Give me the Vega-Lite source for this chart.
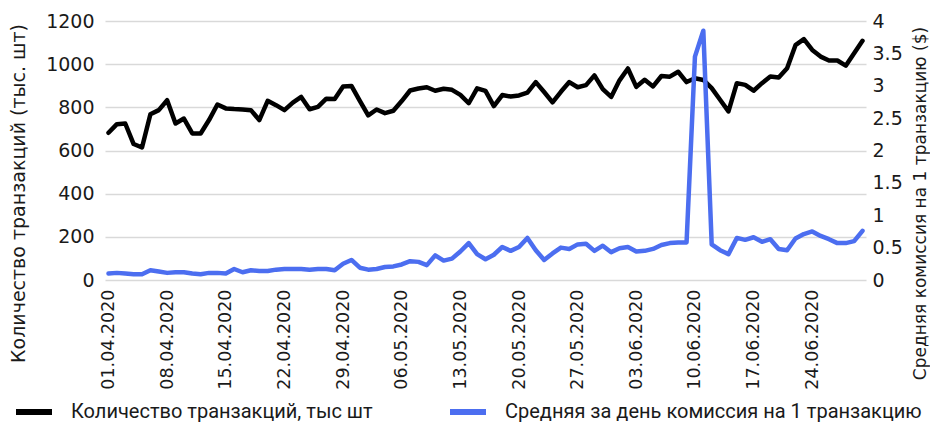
{
  "$schema": "https://vega.github.io/schema/vega-lite/v6.json",
  "width": 761,
  "height": 259,
  "autosize": "none",
  "padding": {"left": 105, "top": 21, "right": 64, "bottom": 144},
  "background": "white",
  "data": {
    "values": [
      {"d": "2020-04-01T00:00", "n": 682, "c": 0.10},
      {"d": "2020-04-02T00:00", "n": 722, "c": 0.11},
      {"d": "2020-04-03T00:00", "n": 725, "c": 0.10},
      {"d": "2020-04-04T00:00", "n": 630, "c": 0.09},
      {"d": "2020-04-05T00:00", "n": 614, "c": 0.09},
      {"d": "2020-04-06T00:00", "n": 768, "c": 0.15},
      {"d": "2020-04-07T00:00", "n": 787, "c": 0.13},
      {"d": "2020-04-08T00:00", "n": 833, "c": 0.11},
      {"d": "2020-04-09T00:00", "n": 725, "c": 0.12},
      {"d": "2020-04-10T00:00", "n": 748, "c": 0.12},
      {"d": "2020-04-11T00:00", "n": 679, "c": 0.10},
      {"d": "2020-04-12T00:00", "n": 679, "c": 0.09},
      {"d": "2020-04-13T00:00", "n": 741, "c": 0.11},
      {"d": "2020-04-14T00:00", "n": 813, "c": 0.11},
      {"d": "2020-04-15T00:00", "n": 795, "c": 0.10},
      {"d": "2020-04-16T00:00", "n": 792, "c": 0.17},
      {"d": "2020-04-17T00:00", "n": 790, "c": 0.12},
      {"d": "2020-04-18T00:00", "n": 787, "c": 0.15},
      {"d": "2020-04-19T00:00", "n": 741, "c": 0.14},
      {"d": "2020-04-20T00:00", "n": 830, "c": 0.14},
      {"d": "2020-04-21T00:00", "n": 810, "c": 0.16},
      {"d": "2020-04-22T00:00", "n": 787, "c": 0.17},
      {"d": "2020-04-23T00:00", "n": 822, "c": 0.17},
      {"d": "2020-04-24T00:00", "n": 848, "c": 0.17},
      {"d": "2020-04-25T00:00", "n": 791, "c": 0.16},
      {"d": "2020-04-26T00:00", "n": 802, "c": 0.17},
      {"d": "2020-04-27T00:00", "n": 840, "c": 0.17},
      {"d": "2020-04-28T00:00", "n": 839, "c": 0.15},
      {"d": "2020-04-29T00:00", "n": 897, "c": 0.25},
      {"d": "2020-04-30T00:00", "n": 899, "c": 0.31},
      {"d": "2020-05-01T00:00", "n": 830, "c": 0.19},
      {"d": "2020-05-02T00:00", "n": 763, "c": 0.16},
      {"d": "2020-05-03T00:00", "n": 790, "c": 0.17},
      {"d": "2020-05-04T00:00", "n": 773, "c": 0.20},
      {"d": "2020-05-05T00:00", "n": 784, "c": 0.21},
      {"d": "2020-05-06T00:00", "n": 829, "c": 0.24},
      {"d": "2020-05-07T00:00", "n": 878, "c": 0.29},
      {"d": "2020-05-08T00:00", "n": 887, "c": 0.28},
      {"d": "2020-05-09T00:00", "n": 893, "c": 0.23},
      {"d": "2020-05-10T00:00", "n": 877, "c": 0.38},
      {"d": "2020-05-11T00:00", "n": 886, "c": 0.30},
      {"d": "2020-05-12T00:00", "n": 881, "c": 0.33},
      {"d": "2020-05-13T00:00", "n": 858, "c": 0.44},
      {"d": "2020-05-14T00:00", "n": 819, "c": 0.57},
      {"d": "2020-05-15T00:00", "n": 888, "c": 0.40},
      {"d": "2020-05-16T00:00", "n": 876, "c": 0.32},
      {"d": "2020-05-17T00:00", "n": 806, "c": 0.39},
      {"d": "2020-05-18T00:00", "n": 857, "c": 0.51},
      {"d": "2020-05-19T00:00", "n": 850, "c": 0.45},
      {"d": "2020-05-20T00:00", "n": 855, "c": 0.51},
      {"d": "2020-05-21T00:00", "n": 868, "c": 0.65},
      {"d": "2020-05-22T00:00", "n": 917, "c": 0.46},
      {"d": "2020-05-23T00:00", "n": 871, "c": 0.31},
      {"d": "2020-05-24T00:00", "n": 823, "c": 0.41},
      {"d": "2020-05-25T00:00", "n": 872, "c": 0.50},
      {"d": "2020-05-26T00:00", "n": 917, "c": 0.48},
      {"d": "2020-05-27T00:00", "n": 893, "c": 0.55},
      {"d": "2020-05-28T00:00", "n": 903, "c": 0.56},
      {"d": "2020-05-29T00:00", "n": 948, "c": 0.45},
      {"d": "2020-05-30T00:00", "n": 884, "c": 0.53},
      {"d": "2020-05-31T00:00", "n": 848, "c": 0.43},
      {"d": "2020-06-01T00:00", "n": 925, "c": 0.49},
      {"d": "2020-06-02T00:00", "n": 980, "c": 0.51},
      {"d": "2020-06-03T00:00", "n": 895, "c": 0.44},
      {"d": "2020-06-04T00:00", "n": 928, "c": 0.45},
      {"d": "2020-06-05T00:00", "n": 897, "c": 0.48},
      {"d": "2020-06-06T00:00", "n": 945, "c": 0.54},
      {"d": "2020-06-07T00:00", "n": 942, "c": 0.57},
      {"d": "2020-06-08T00:00", "n": 965, "c": 0.58},
      {"d": "2020-06-09T00:00", "n": 917, "c": 0.58},
      {"d": "2020-06-10T00:00", "n": 935, "c": 3.45},
      {"d": "2020-06-11T00:00", "n": 927, "c": 3.85},
      {"d": "2020-06-12T00:00", "n": 889, "c": 0.55},
      {"d": "2020-06-13T00:00", "n": 835, "c": 0.46},
      {"d": "2020-06-14T00:00", "n": 781, "c": 0.40},
      {"d": "2020-06-15T00:00", "n": 912, "c": 0.65},
      {"d": "2020-06-16T00:00", "n": 904, "c": 0.62},
      {"d": "2020-06-17T00:00", "n": 877, "c": 0.66},
      {"d": "2020-06-18T00:00", "n": 912, "c": 0.59},
      {"d": "2020-06-19T00:00", "n": 943, "c": 0.63},
      {"d": "2020-06-20T00:00", "n": 938, "c": 0.48},
      {"d": "2020-06-21T00:00", "n": 981, "c": 0.46},
      {"d": "2020-06-22T00:00", "n": 1088, "c": 0.64},
      {"d": "2020-06-23T00:00", "n": 1116, "c": 0.71},
      {"d": "2020-06-24T00:00", "n": 1066, "c": 0.75},
      {"d": "2020-06-25T00:00", "n": 1035, "c": 0.68},
      {"d": "2020-06-26T00:00", "n": 1017, "c": 0.63},
      {"d": "2020-06-27T00:00", "n": 1017, "c": 0.57},
      {"d": "2020-06-28T00:00", "n": 993, "c": 0.57},
      {"d": "2020-06-29T00:00", "n": 1051, "c": 0.60},
      {"d": "2020-06-30T00:00", "n": 1108, "c": 0.76}
    ]
  },
  "encoding": {
    "x": {
      "field": "d",
      "type": "temporal",
      "scale": {"nice": false, "padding": 3.5},
      "axis": {
        "title": null,
        "domain": false,
        "ticks": false,
        "grid": false,
        "values": [
          {"year": 2020, "month": 4, "date": 1},
          {"year": 2020, "month": 4, "date": 8},
          {"year": 2020, "month": 4, "date": 15},
          {"year": 2020, "month": 4, "date": 22},
          {"year": 2020, "month": 4, "date": 29},
          {"year": 2020, "month": 5, "date": 6},
          {"year": 2020, "month": 5, "date": 13},
          {"year": 2020, "month": 5, "date": 20},
          {"year": 2020, "month": 5, "date": 27},
          {"year": 2020, "month": 6, "date": 3},
          {"year": 2020, "month": 6, "date": 10},
          {"year": 2020, "month": 6, "date": 17},
          {"year": 2020, "month": 6, "date": 24}
        ],
        "format": "%d.%m.%Y",
        "labelAngle": 270,
        "labelAlign": "right",
        "labelBaseline": "middle",
        "labelPadding": 9,
        "labelFontSize": 17.5,
        "labelColor": "#1a1a1a",
        "labelOverlap": false
      }
    }
  },
  "layer": [
    {
      "mark": {"type": "line", "strokeWidth": 4.5, "strokeJoin": "round", "strokeCap": "round"},
      "encoding": {
        "y": {
          "field": "n",
          "type": "quantitative",
          "scale": {"domain": [0, 1200], "nice": false},
          "axis": {
            "title": "Количество транзакций (тыс. шт)",
            "values": [0, 200, 400, 600, 800, 1000, 1200],
            "format": "d",
            "domain": false,
            "ticks": false,
            "grid": true,
            "gridColor": "#d9d9d9",
            "gridWidth": 1.5,
            "labelFontSize": 19,
            "labelColor": "#1a1a1a",
            "labelPadding": 11,
            "titleFontSize": 19,
            "titleFontWeight": "normal",
            "titleColor": "#1a1a1a",
            "titleAngle": 270,
            "titleAlign": "center",
            "titleBaseline": "middle",
            "titleX": -87,
            "titleY": 172
          }
        },
        "color": {"datum": "Количество транзакций, тыс шт"}
      }
    },
    {
      "mark": {"type": "line", "strokeWidth": 4.5, "strokeJoin": "round", "strokeCap": "round"},
      "encoding": {
        "y": {
          "field": "c",
          "type": "quantitative",
          "scale": {"domain": [0, 4], "nice": false},
          "axis": {
            "orient": "right",
            "title": "Средняя комиссия на 1 транзакцию ($)",
            "values": [0, 0.5, 1, 1.5, 2, 2.5, 3, 3.5, 4],
            "format": "~g",
            "domain": false,
            "ticks": false,
            "grid": false,
            "labelFontSize": 19,
            "labelColor": "#1a1a1a",
            "labelPadding": 6,
            "titleFontSize": 17,
            "titleFontWeight": "normal",
            "titleColor": "#1a1a1a",
            "titleAngle": 270,
            "titleAlign": "center",
            "titleBaseline": "middle",
            "titleX": 54,
            "titleY": 182
          }
        },
        "color": {"datum": "Средняя за день комиссия на 1 транзакцию"}
      }
    }
  ],
  "resolve": {"scale": {"y": "independent"}},
  "config": {
    "view": {"stroke": null},
    "font": "DejaVu Sans",
    "range": {"category": ["#000000", "#4c6ef0"]},
    "legend": {
      "orient": "none",
      "legendX": -92,
      "legendY": 370,
      "direction": "horizontal",
      "title": null,
      "symbolType": "stroke",
      "symbolSize": 1296,
      "symbolStrokeWidth": 6,
      "labelFont": "Roboto",
      "labelFontSize": 20,
      "labelColor": "#1a1a1a",
      "labelLimit": 600,
      "labelOffset": 16,
      "columnPadding": 65
    }
  }
}
